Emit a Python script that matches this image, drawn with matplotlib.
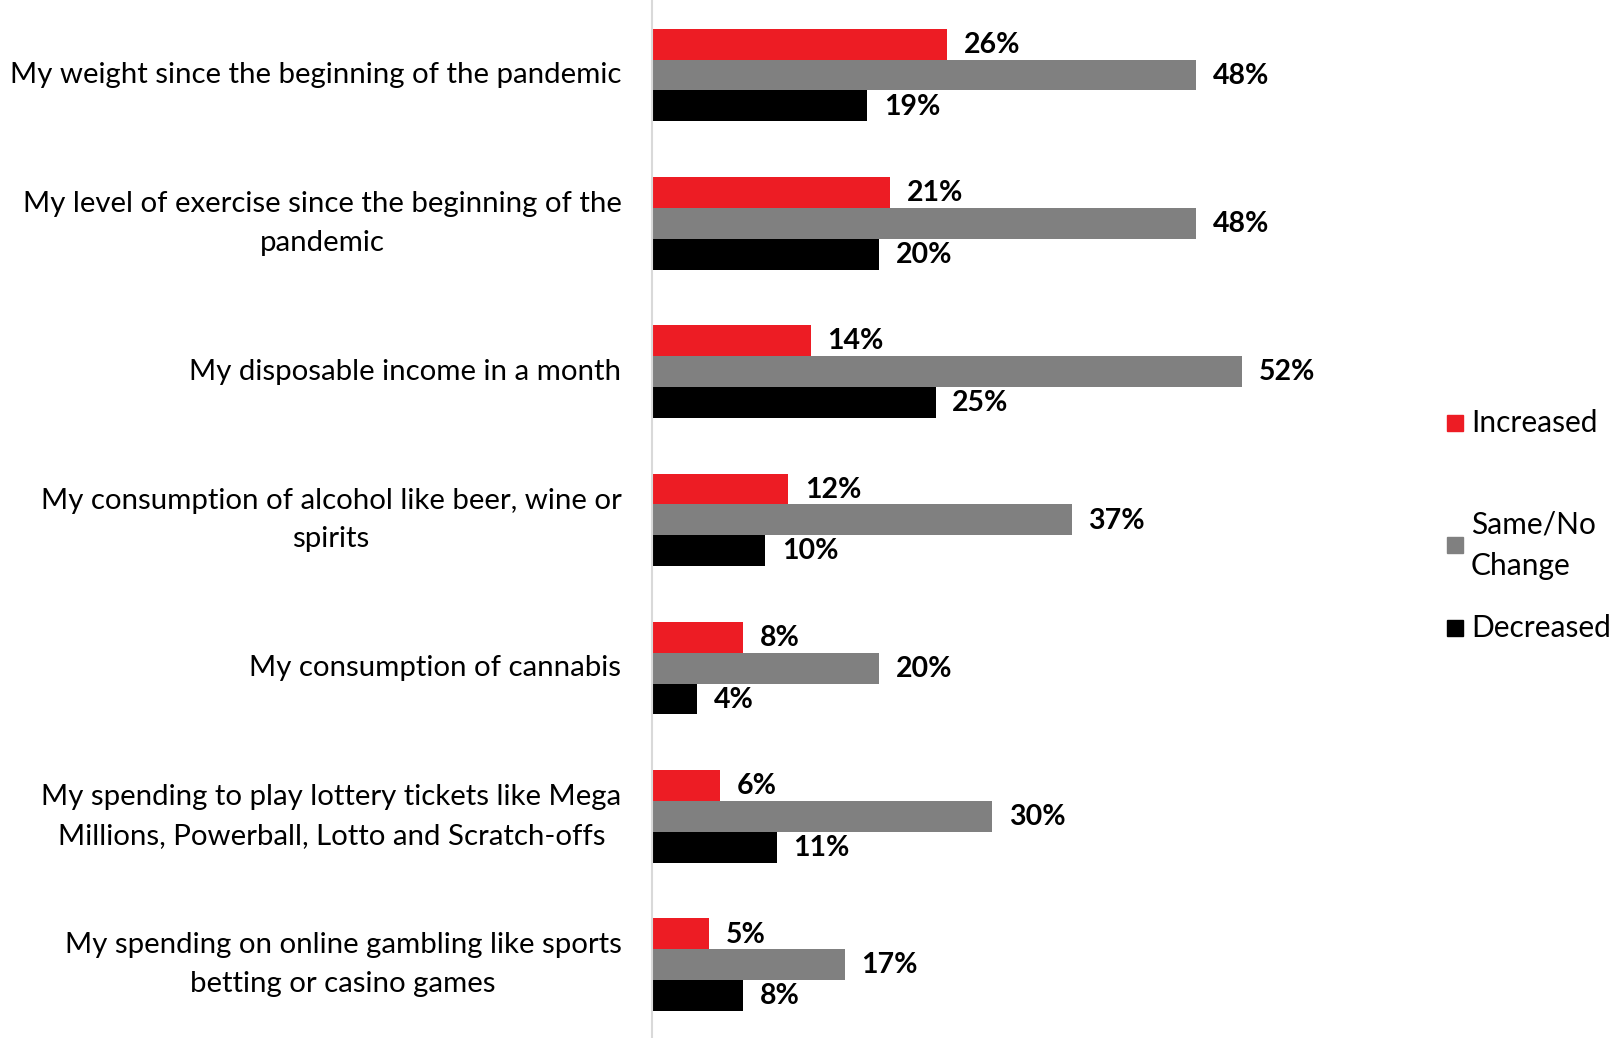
import matplotlib
matplotlib.use("Agg")
import matplotlib.pyplot as plt
from matplotlib.patches import Rectangle
import numpy as np

categories = [
    "My weight since the beginning of the pandemic",
    "My level of exercise since the beginning of the\npandemic",
    "My disposable income in a month",
    "My consumption of alcohol like beer, wine or\nspirits",
    "My consumption of cannabis",
    "My spending to play lottery tickets like Mega\nMillions, Powerball, Lotto and Scratch-offs",
    "My spending on online gambling like sports\nbetting or casino games",
]
series_names = ["Increased", "Same/No\nChange", "Decreased"]
increased = [26, 21, 14, 12, 8, 6, 5]
same = [48, 48, 52, 37, 20, 30, 17]
decreased = [19, 20, 25, 10, 4, 11, 8]
colors = ["#ED1C24", "#808080", "#000000"]

plt.rcParams["font.family"] = ["Lato", "DejaVu Sans"]

W, H = 1613, 1038
fig = plt.figure(figsize=(W / 100, H / 100), dpi=100)
ax = fig.add_axes([652 / W, 0.0, (1585 - 652) / W, 1.0])

y = np.arange(len(categories))
bh = 0.208
for k, (vals, col) in enumerate(zip([increased, same, decreased], colors)):
    pos = y + (k - 1) * bh
    ax.barh(pos, vals, height=bh, color=col, edgecolor="none")
    for p, v in zip(pos, vals):
        ax.annotate(f"{v}%", (v, p), xytext=(12, -0.5), textcoords="offset points",
                    ha="left", va="center", fontsize=20.5, fontweight="bold",
                    color="black")

shift = 0.006
ax.set_xlim(0, (1585 - 652) / 11.34)
ax.set_ylim(len(categories) - 0.5 - shift, -0.5 - shift)
for s in ["top", "right", "bottom"]:
    ax.spines[s].set_visible(False)
ax.spines["left"].set_color("#d9d9d9")
ax.spines["left"].set_linewidth(1.5)
ax.set_xticks([])
ax.set_yticks(y)
ax.set_yticklabels(categories, fontsize=21.2, multialignment="center",
                   linespacing=1.6, va="center")
ax.tick_params(axis="y", length=0, pad=22)

# legend entries on the right
leg_y = [411, 530, 610]
for name, col, yy in zip(series_names, colors, leg_y):
    yf = 1 - yy * 1.0287 / H
    fig.patches.append(Rectangle((1447 / W, yf - 8 / H), 16 / W, 16 / H,
                                 transform=fig.transFigure, color=col))
    fig.text(1471 / W, yf, name, fontsize=21.5, va="center", ha="left",
             linespacing=1.6)

fig.savefig("out.png", dpi=100)
